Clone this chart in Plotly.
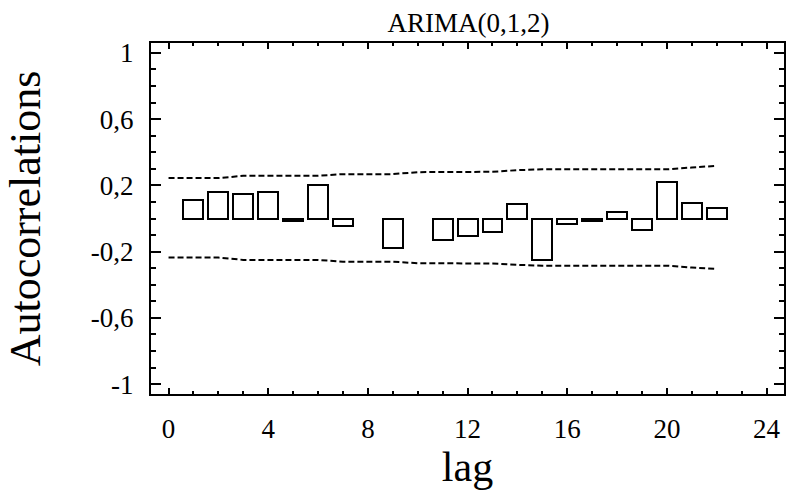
import plotly.graph_objects as go

# ---- data ----
lags = list(range(1, 23))
acf = [0.109, 0.158, 0.150, 0.158, -0.015, 0.205, -0.045, None, -0.176, None,
       -0.130, -0.105, -0.080, 0.087, -0.250, -0.033, -0.015, 0.041, -0.069,
       0.222, 0.092, 0.063]

limit_lags = list(range(0, 23))
upper = [0.244, 0.244, 0.244, 0.258, 0.258, 0.258, 0.258, 0.268, 0.268, 0.268,
         0.280, 0.280, 0.280, 0.282, 0.292, 0.297, 0.297, 0.297, 0.297, 0.297,
         0.297, 0.308, 0.318]
lower = [-0.236, -0.236, -0.236, -0.250, -0.250, -0.250, -0.250, -0.261, -0.261,
         -0.261, -0.270, -0.270, -0.270, -0.272, -0.280, -0.285, -0.285, -0.285,
         -0.285, -0.285, -0.285, -0.296, -0.305]

x_ticks = [0, 4, 8, 12, 16, 20, 24]
y_ticks = [-1, -0.6, -0.2, 0.2, 0.6, 1]
y_ticktext = ["-1", "-0,6", "-0,2", "0,2", "0,6", "1"]

title_text = "ARIMA(0,1,2)"
x_title = "lag"
y_title = "Autocorrelations"

FONT = "Liberation Serif, Times New Roman, serif"

fig = go.Figure()
fig.add_trace(go.Bar(
    x=lags, y=acf, width=0.8,
    marker=dict(color="white", line=dict(color="black", width=2)),
    showlegend=False,
))
for lim in (upper, lower):
    fig.add_trace(go.Scatter(
        x=limit_lags, y=lim, mode="lines",
        line=dict(color="black", width=2, dash="6px,3px"),
        showlegend=False, hoverinfo="skip",
    ))

fig.update_layout(
    width=787, height=490,
    margin=dict(l=151, r=1, t=43, b=96),
    paper_bgcolor="white", plot_bgcolor="white",
    font=dict(family=FONT, color="black"),
    title=dict(text=title_text, font=dict(size=27, family=FONT, color="black"),
               x=(151 + 786) / 2 / 787, xanchor="center",
               y=1 - 23 / 490, yanchor="middle"),
    bargap=0,
)

fig.update_xaxes(
    range=[-0.704, 24.7],
    tickmode="array", tickvals=x_ticks, ticktext=[str(v) for v in x_ticks],
    ticks="inside", ticklen=6, tickwidth=2, tickcolor="black",
    minor=dict(tickmode="linear", tick0=0, dtick=1, ticks="inside",
               ticklen=3, tickwidth=2, tickcolor="black"),
    showline=True, linecolor="black", linewidth=2, mirror="ticks",
    showgrid=False, zeroline=False,
    tickfont=dict(size=27, family=FONT, color="black"),
    ticklabelstandoff=10,
    title=dict(text=x_title, font=dict(size=42, family=FONT, color="black"),
               standoff=6),
)
fig.update_yaxes(
    range=[-1.06, 1.06],
    tickmode="array", tickvals=y_ticks, ticktext=y_ticktext,
    ticks="inside", ticklen=10, tickwidth=2, tickcolor="black",
    minor=dict(tickmode="linear", tick0=0, dtick=0.1, ticks="inside",
               ticklen=5, tickwidth=2, tickcolor="black"),
    showline=True, linecolor="black", linewidth=2, mirror="ticks",
    showgrid=False, zeroline=False,
    tickfont=dict(size=27, family=FONT, color="black"),
    ticklabelstandoff=10,
    title=dict(text=y_title, font=dict(size=44, family=FONT, color="black"),
               standoff=36),
)

fig.write_html("out.html")
